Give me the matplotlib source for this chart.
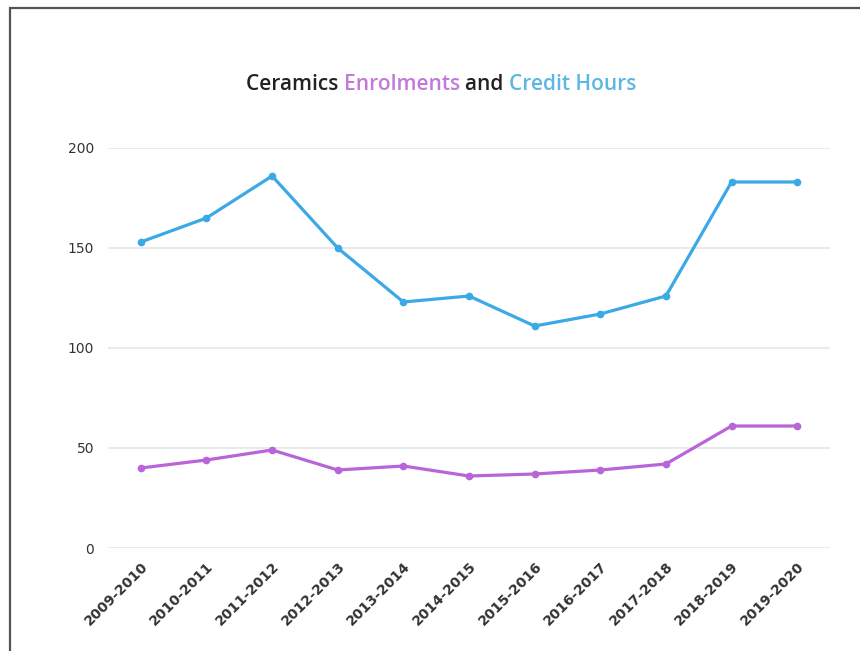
import matplotlib
matplotlib.use("Agg")
import matplotlib.pyplot as plt
from matplotlib.patches import Rectangle

years = ["2009-2010", "2010-2011", "2011-2012", "2012-2013", "2013-2014", "2014-2015",
         "2015-2016", "2016-2017", "2017-2018", "2018-2019", "2019-2020"]
credit_hours = [153, 165, 186, 150, 123, 126, 111, 117, 126, 183, 183]
enrolments = [40, 44, 49, 39, 41, 36, 37, 39, 42, 61, 61]
yticks = [0, 50, 100, 150, 200]

blue = "#3BA9E6"
purple = "#B865DA"

fig = plt.figure(figsize=(8.6, 6.51), dpi=100)
fig.patch.set_facecolor("white")

# outer border (extends past right/bottom edges)
fig.patches.append(Rectangle((10/860, -0.1), 1.2, 1 - 8/651 + 0.1, transform=fig.transFigure,
                             fill=False, edgecolor="#555555", linewidth=1.6, zorder=0))

ax = fig.add_axes([108/860, 1 - 548/651, (830 - 108)/860, 400/651])
x = list(range(len(years)))
ax.plot(x, credit_hours, color=blue, linewidth=2.3, marker="o", markersize=4.5, zorder=3)
ax.plot(x, enrolments, color=purple, linewidth=2.3, marker="o", markersize=4.5, zorder=3)

ax.set_xlim(-0.5, len(years) - 0.5)
ax.set_ylim(0, 200)
ax.set_yticks(yticks)
ax.set_yticklabels([str(v) for v in yticks], fontsize=10, color="#333333")
ax.set_xticks(x)
ax.set_xticklabels(years, rotation=45, ha="right", rotation_mode="anchor",
                   fontsize=10, color="#333333", fontweight="bold")
ax.tick_params(axis="both", length=0)
ax.tick_params(axis="y", pad=10)
ax.tick_params(axis="x", pad=8)
ax.grid(axis="y", color="#E6E6E6", linewidth=1.2)
ax.set_axisbelow(True)
for s in ax.spines.values():
    s.set_visible(False)

# multi-coloured title
parts = [("Ceramics ", "#222222"), ("Enrolments ", "#C27AD8"), ("and ", "#222222"), ("Credit Hours", "#5DB7E2")]
fig.canvas.draw()
renderer = fig.canvas.get_renderer()
texts = []
widths = []
for s, c in parts:
    t = fig.text(0, 0, s, fontsize=15, color=c, fontweight="semibold", family="Open Sans",
                 va="center", ha="left")
    texts.append(t)
    widths.append(t.get_window_extent(renderer).width)
total = sum(widths)
cx = 441
start = cx - total / 2
for t, w in zip(texts, widths):
    t.set_position((start / 860, 1 - 85 / 651))
    start += w

fig.savefig("out.png", dpi=100, facecolor="white")
